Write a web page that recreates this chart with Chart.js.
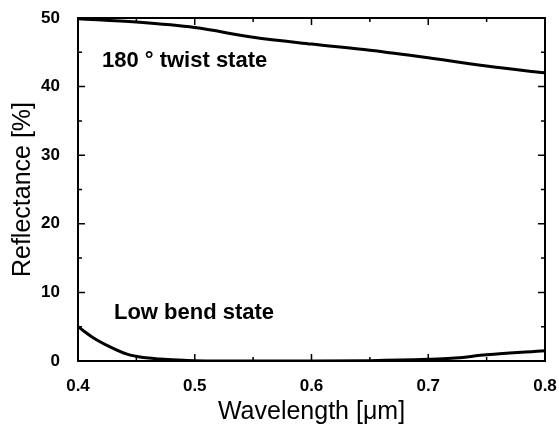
<!DOCTYPE html>
<html>
<head>
<meta charset="utf-8">
<script src="https://cdn.jsdelivr.net/npm/chart.js@4.4.1/dist/chart.umd.min.js"></script>
<style>
  html, body { margin: 0; padding: 0; background: #fff; }
  #wrap { width: 559px; height: 426px; }
</style>
</head>
<body>
<div id="wrap"><canvas id="myChart" width="559" height="426"></canvas></div>
<script>
// wavelengths in um, reflectance in %
var twistWl = [0.40, 0.45, 0.50, 0.55, 0.60, 0.65, 0.70, 0.75, 0.80];
var twistR  = [49.9, 49.4, 48.6, 47.2, 46.2, 45.3, 44.2, 43.0, 42.0];

var bendWl = [0.400, 0.413, 0.427, 0.442, 0.456, 0.470, 0.485, 0.50, 0.55, 0.60, 0.65, 0.70, 0.72, 0.75, 0.80];
var bendR  = [5.0,   3.4,   2.1,   1.0,   0.5,   0.3,   0.15,  0.05, 0.0,  0.0,  0.05, 0.25, 0.4,  0.9,  1.5];

var xTicks = [0.4, 0.5, 0.6, 0.7, 0.8];
var yTicks = [0, 10, 20, 30, 40, 50];

function toPoints(xs, ys) {
  return xs.map(function (x, i) { return { x: x, y: ys[i] }; });
}

var FONT = '"Liberation Sans", Arial, sans-serif';

// inward ticks on all four sides + labels inside the plot
var frame = {
  id: 'frame',
  afterDraw: function (chart) {
    var c = chart.ctx, a = chart.chartArea;
    var xs = chart.scales.x, ys = chart.scales.y;
    c.save();
    c.strokeStyle = '#000';
    c.lineWidth = 2;
    c.strokeRect(a.left, a.top, a.right - a.left, a.bottom - a.top);
    c.lineWidth = 1.5;
    for (var v = 0.4; v <= 0.8001; v += 0.05) {
      var px = xs.getPixelForValue(v);
      var major = Math.abs(v * 10 - Math.round(v * 10)) < 0.01;
      var len = major ? 7 : 4;
      c.beginPath();
      c.moveTo(px, a.bottom); c.lineTo(px, a.bottom - len);
      c.moveTo(px, a.top); c.lineTo(px, a.top + len);
      c.stroke();
    }
    for (var w = 0; w <= 50; w += 5) {
      var py = ys.getPixelForValue(w);
      var l2 = (w % 10 === 0) ? 7 : 4;
      c.beginPath();
      c.moveTo(a.left, py); c.lineTo(a.left + l2, py);
      c.moveTo(a.right, py); c.lineTo(a.right - l2, py);
      c.stroke();
    }
    c.fillStyle = '#000';
    c.font = 'bold 22px ' + FONT;
    c.textBaseline = 'middle';
    c.textAlign = 'left';
    c.fillText('180 \u00B0 twist state', xs.getPixelForValue(0.4205), ys.getPixelForValue(43.8));
    c.fillText('Low bend state', xs.getPixelForValue(0.4308), ys.getPixelForValue(7.0));
    c.restore();
  }
};

var ctx = document.getElementById('myChart').getContext('2d');
var chart = new Chart(ctx, {
  type: 'scatter',
  data: {
    datasets: [{
      label: '180 twist state',
      data: toPoints(twistWl, twistR),
      showLine: true,
      borderColor: '#000',
      borderWidth: 3,
      pointRadius: 0,
      cubicInterpolationMode: 'monotone'
    }, {
      label: 'Low bend state',
      data: toPoints(bendWl, bendR),
      showLine: true,
      borderColor: '#000',
      borderWidth: 3,
      pointRadius: 0,
      cubicInterpolationMode: 'monotone'
    }]
  },
  options: {
    responsive: false,
    animation: false,
    layout: { padding: { top: 18, right: 14, left: 8, bottom: 0 } },
    plugins: { legend: { display: false }, tooltip: { enabled: false } },
    scales: {
      x: {
        type: 'linear',
        min: 0.4, max: 0.8,
        afterBuildTicks: function (s) { s.ticks = xTicks.map(function (v) { return { value: v }; }); },
        afterFit: function (s) { s.height = 65; s.paddingLeft = 0; s.paddingRight = 0; },
        grid: { display: false },
        border: { display: false },
        ticks: {
          color: '#000',
          padding: 7,
          maxRotation: 0,
          font: { family: FONT, size: 17, weight: 'bold' },
          callback: function (v) { return v.toFixed(1); }
        },
        title: {
          display: true,
          text: 'Wavelength [\u03BCm]',
          color: '#000',
          padding: 0,
          font: { family: FONT, size: 25, lineHeight: 1.1 }
        }
      },
      y: {
        min: 0, max: 50,
        afterBuildTicks: function (s) { s.ticks = yTicks.map(function (v) { return { value: v }; }); },
        afterFit: function (s) { s.width = 70; s.paddingTop = 0; s.paddingBottom = 0; },
        grid: { display: false },
        border: { display: false },
        ticks: {
          color: '#000',
          padding: 10,
          font: { family: FONT, size: 17, weight: 'bold' }
        },
        title: {
          display: true,
          text: 'Reflectance [%]',
          color: '#000',
          padding: 0,
          font: { family: FONT, size: 25, lineHeight: 1.2 }
        }
      }
    }
  },
  plugins: [frame]
});
</script>
</body>
</html>
